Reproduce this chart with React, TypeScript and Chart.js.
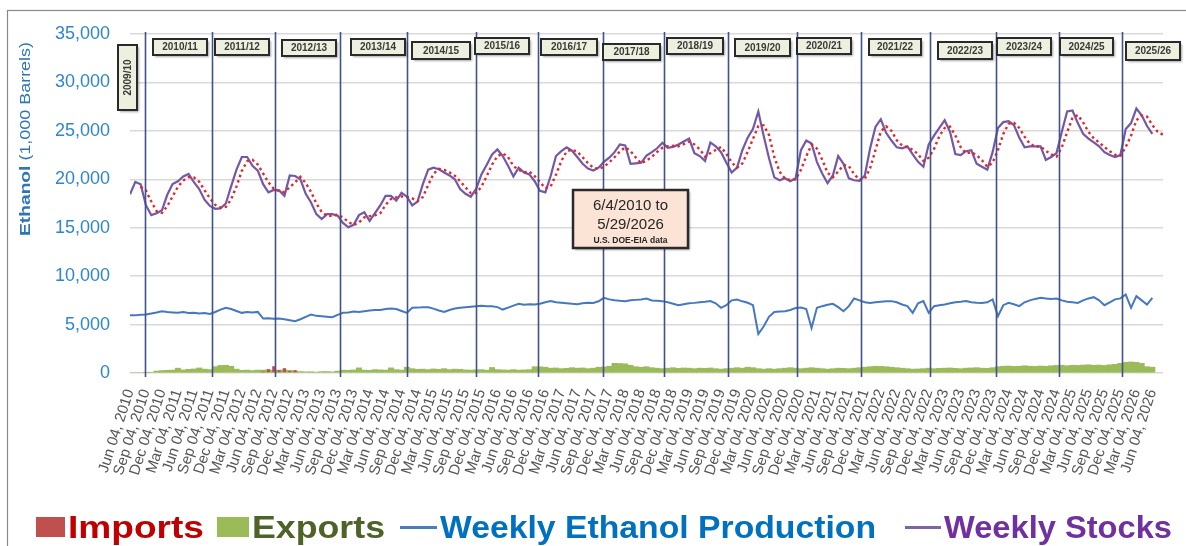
import React, { useEffect, useRef } from "react";
import { Chart, registerables } from "chart.js";

Chart.register(...registerables);

const FONT = "'Liberation Sans', Arial, sans-serif";

// ---------- x axis (months after Jun 4, 2010) ----------
const quarterNames = ["Jun", "Sep", "Dec", "Mar"];
const firstYear = 2010;
const lastTickMonth = 192;
const tickMonths: number[] = [];
for (let m = 0; m <= lastTickMonth; m += 3) tickMonths.push(m);
function tickLabel(m: number): string {
  const q = Math.round(m / 3);
  return `${quarterNames[q % 4]} 04, ${firstYear + Math.floor((q + 1) / 4)}`;
}

// ---------- series (monthly readings, 1,000 barrels) ----------
const weeklyStocks = [
  18460, 19730, 19490, 17300, 16300, 16500, 16800, 18400, 19500, 19800, 20300, 20550,
  19700, 19000, 17900, 17250, 16950, 17000, 17500, 19300, 21000, 22300, 22300, 21400,
  20900, 19500, 18650, 18900, 18850, 18300, 20400, 20340, 20000, 18500, 17600, 16400,
  15900, 16400, 16400, 16250, 15500, 15050, 15300, 16300, 16600, 15700, 16500, 17300,
  18290, 18290, 17800, 18600, 18200, 17300, 17700, 19500, 21000, 21200, 21030, 20700,
  20400, 20000, 19000, 18500, 18200, 19000, 20500, 21500, 22570, 23080, 22400, 21400,
  20300, 21200, 20700, 20500, 19800, 18800, 18650, 20340, 22400, 22910, 23300, 22950,
  22300, 21600, 21100, 20900, 21200, 21800, 22230, 22800, 23600, 23500, 21600, 21650,
  21700, 22450, 22800, 23200, 23770, 23250, 23350, 23600, 23900, 24200, 22700, 22400,
  21900, 23800, 23400, 22800, 21700, 20700, 21200, 23000, 24300, 25200, 27000, 24500,
  22200, 20200, 19900, 20100, 19800, 20100, 23000, 24000, 23700, 21800, 20600, 19600,
  20400, 22400, 21600, 20100, 19900, 19850, 20400, 23200, 25400, 26200, 24800, 24000,
  23300, 23200, 23400, 22570, 21800, 21300, 23600, 24500, 25300, 26100, 24900, 22600,
  22500, 22900, 23000, 21600, 21300, 21000, 22800, 25300, 25900, 26000, 25600, 24300,
  23300, 23400, 23400, 23400, 22000, 22300, 22700, 24900, 27000, 27100, 25800, 24700,
  24200, 23800, 23400, 22800, 22500, 22300, 22500, 25200, 25800, 27300, 26600, 25500,
  24700,
];

const stocksTrend = [
  null, null, 19230, 18840, 17700, 16700, 16530, 17230, 18230, 19230, 19870, 20220,
  20180, 19750, 18870, 18050, 17370, 17070, 17150, 17930, 19270, 20870, 21870, 22000,
  21530, 20600, 19680, 19020, 18800, 18680, 19180, 19680, 20250, 19610, 18700, 17500,
  16630, 16230, 16230, 16350, 16050, 15600, 15280, 15550, 16070, 16200, 16270, 16500,
  17360, 17960, 18130, 18230, 18200, 18030, 17730, 18170, 19400, 20570, 21080, 20980,
  20710, 20370, 19800, 19170, 18570, 18570, 19230, 20330, 21520, 22380, 22680, 22290,
  21370, 20970, 20730, 20800, 20330, 19700, 19080, 19260, 20460, 21880, 22870, 23050,
  22850, 22280, 21670, 21200, 21070, 21300, 21740, 22280, 22880, 23300, 22900, 22250,
  21650, 21930, 22320, 22820, 23260, 23410, 23460, 23400, 23620, 23900, 23600, 23100,
  22330, 22700, 23030, 23330, 22630, 21730, 21200, 21630, 22830, 24170, 25500, 25570,
  24570, 22300, 20770, 20070, 19930, 20000, 20970, 22370, 23570, 23170, 22030, 20670,
  20200, 20800, 21470, 21370, 20530, 19950, 20050, 21150, 23000, 24930, 25470, 25000,
  24030, 23500, 23300, 23060, 22590, 21890, 22230, 23130, 24470, 25300, 25430, 24530,
  23330, 22670, 22800, 22500, 21970, 21300, 21700, 23030, 24670, 25730, 25830, 25300,
  24400, 23670, 23370, 23400, 22930, 22570, 22330, 23300, 24870, 26330, 26630, 25870,
  24900, 24230, 23800, 23330, 22900, 22530, 22430, 23330, 24500, 26100, 26570, 26470,
  25600, 24900, 24600,
];

const weeklyProduction = [
  5970, 5950, 6020, 6040, 6150, 6250, 6380, 6300, 6250, 6210, 6300, 6200,
  6210, 6150, 6200, 6100, 6300, 6550, 6730, 6600, 6400, 6210, 6300, 6250,
  6310, 5620, 5650, 5600, 5620, 5550, 5450, 5350, 5550, 5800, 6040, 5900,
  5850, 5800, 5760, 6000, 6210, 6250, 6350, 6300, 6380, 6450, 6500, 6500,
  6600, 6650, 6600, 6400, 6210, 6730, 6750, 6800, 6790, 6650, 6450, 6310,
  6500, 6650, 6730, 6800, 6850, 6900, 6950, 6900, 6900, 6800, 6550, 6750,
  6950, 7140, 7050, 7100, 7070, 7150, 7300, 7420, 7300, 7250, 7200, 7140,
  7100, 7200, 7250, 7240, 7400, 7760, 7600, 7500, 7450, 7420, 7500, 7550,
  7600, 7690, 7480, 7450, 7420, 7300, 7150, 7000, 7100, 7200, 7240, 7300,
  7350, 7420, 7200, 6730, 7000, 7500, 7590, 7400, 7250, 7000, 4030, 4800,
  5800, 6300, 6350, 6380, 6500, 6700, 6750, 6600, 4650, 6730, 6900, 7050,
  7140, 6800, 6380, 6900, 7690, 7500, 7300, 7240, 7300, 7350, 7400, 7420,
  7300, 7070, 6900, 6210, 7200, 7420, 6210, 6900, 7000, 7070, 7200, 7300,
  7350, 7420, 7300, 7250, 7240, 7300, 7590, 5860, 7000, 7240, 7100, 6900,
  7300, 7500, 7650, 7760, 7700, 7650, 7690, 7500, 7350, 7300, 7240, 7500,
  7700, 7830, 7500, 7000, 7300, 7600, 7700, 8100, 6730, 7930, 7500, 7070,
  7760,
];

const exportsVolume = [
  0, 0, 0, 60, 80, 200, 250, 280, 300, 500, 320, 380,
  420, 520, 400, 350, 650, 780, 800, 700, 400, 280, 300, 250,
  300, 300, 320, 280, 300, 320, 280, 200, 150, 120, 130, 100,
  140, 150, 120, 200, 300, 280, 320, 530, 300, 280, 350, 320,
  300, 530, 350, 300, 600, 450, 380, 400, 350, 420, 380, 450,
  350, 400, 380, 320, 300, 330, 350, 300, 570, 350, 320, 300,
  350, 300, 320, 350, 650, 640, 600, 500, 520, 450, 480, 550,
  500, 520, 450, 500, 600, 620, 700, 1000, 980, 950, 800, 650,
  600, 650, 550, 500, 450, 500, 550, 480, 520, 500, 450, 500,
  480, 520, 450, 400, 450, 500, 550, 500, 600, 550, 450, 400,
  450, 400, 450, 500, 550, 500, 450, 500, 550, 500, 450, 400,
  450, 500, 480, 450, 500, 550, 600, 650, 700, 680, 650, 600,
  550, 500, 450, 400, 420, 450, 500, 450, 480, 500, 520, 480,
  450, 500, 520, 550, 500, 480, 550, 650, 700, 720, 680, 700,
  750, 700, 680, 720, 700, 750, 780, 800, 750, 800, 780, 820,
  850, 800, 820, 780, 850, 900, 1000, 1100, 1140, 1100, 1000, 650,
  600,
];

const importsMonths = [25, 26, 27, 28, 29, 30, 31];
const importsVolume = [150, 400, 700, 300, 500, 200, 300];

// ---------- annotations ----------
const marketingYearLineMonths = [2.8, 15.4, 27.3, 39.5, 52.1, 64.9, 76.6, 88.8, 100.3, 112.3, 125.3, 137.2, 150.3, 162.6, 174.4, 186.3];
const marketingYearLabels = ["2010/11", "2011/12", "2012/13", "2013/14", "2014/15", "2015/16", "2016/17", "2017/18", "2018/19", "2019/20", "2020/21", "2021/22", "2022/23", "2023/24", "2024/25", "2025/26"];
// box layout: [left, top, width, height] in pixels
const yearBoxLayout: number[][] = [
  [153, 39, 54, 16], [215, 39, 54, 16], [282, 40, 54, 16], [351, 39, 54, 16],
  [412, 42, 58, 17], [475, 38, 54, 16], [541, 39, 56, 16], [603, 44, 57, 16],
  [667, 38, 56, 16], [735, 39, 55, 17], [797, 38, 54, 16], [869, 39, 52, 16],
  [938, 42, 54, 17], [997, 38, 54, 17], [1060, 38, 53, 17], [1126, 42, 54, 18],
];
const firstYearLabel = "2009/10";
const dateRangeLines = ["6/4/2010 to", "5/29/2026", "U.S. DOE-EIA data"];
const yTitleBold = "Ethanol";
const yTitleRest = " (1,000 Barrels)";

const legendItems = [
  { kind: "box", text: "Imports", swatch: "#c0504d", color: "#c00000", sx: 36, tx: 68, tw: 136 },
  { kind: "box", text: "Exports", swatch: "#9bbb59", color: "#4f6228", sx: 217, tx: 252, tw: 133 },
  { kind: "line", text: "Weekly Ethanol Production", swatch: "#4a7ebb", color: "#0070c0", sx: 400, tx: 440, tw: 436 },
  { kind: "line", text: "Weekly Stocks", swatch: "#8064a2", color: "#7030a0", sx: 905, tx: 944, tw: 228 },
];

function fillFitted(ctx: CanvasRenderingContext2D, text: string, x: number, y: number, width: number) {
  const w = ctx.measureText(text).width;
  ctx.save();
  ctx.translate(x, y);
  ctx.scale(width / w, 1);
  ctx.fillText(text, 0, 0);
  ctx.restore();
}

function drawBox(ctx: CanvasRenderingContext2D, x: number, y: number, w: number, h: number, fill: string, lw: number) {
  ctx.save();
  ctx.shadowColor = "rgba(0,0,0,0.35)";
  ctx.shadowOffsetX = 1.5;
  ctx.shadowOffsetY = 1.5;
  ctx.shadowBlur = 2;
  ctx.fillStyle = fill;
  ctx.fillRect(x, y, w, h);
  ctx.restore();
  ctx.save();
  ctx.strokeStyle = "#2a2a2a";
  ctx.lineWidth = lw;
  ctx.strokeRect(x, y, w, h);
  ctx.restore();
}

const overlayPlugin = {
  id: "overlay",
  beforeDraw(chart: any) {
    const ctx = chart.ctx as CanvasRenderingContext2D;
    ctx.save();
    ctx.fillStyle = "#ffffff";
    ctx.fillRect(0, 0, chart.width, chart.height);
    ctx.restore();
  },
  afterDatasetsDraw(chart: any) {
    const ctx = chart.ctx as CanvasRenderingContext2D;
    const xs = chart.scales.x;
    ctx.save();
    ctx.strokeStyle = "#41518c";
    ctx.lineWidth = 1.6;
    for (const m of marketingYearLineMonths) {
      const px = Math.round(xs.getPixelForValue(m)) + 0.5;
      ctx.beginPath();
      ctx.moveTo(px, 32);
      ctx.lineTo(px, 377);
      ctx.stroke();
    }
    ctx.restore();
  },
  afterDraw(chart: any) {
    const ctx = chart.ctx as CanvasRenderingContext2D;
    // outer frame
    ctx.save();
    ctx.strokeStyle = "#8a8a8a";
    ctx.lineWidth = 1.2;
    ctx.strokeRect(7.5, 10.5, 1200, 560);
    ctx.restore();

    // marketing-year boxes
    ctx.save();
    ctx.textAlign = "center";
    ctx.textBaseline = "middle";
    marketingYearLabels.forEach((label, i) => {
      const [bx, by, bw, bh] = yearBoxLayout[i];
      drawBox(ctx, bx, by, bw, bh, "#edf0de", 2);
      ctx.fillStyle = "#3a3a3a";
      ctx.font = `bold 10px ${FONT}`;
      ctx.fillText(label, bx + bw / 2, by + bh / 2 + 0.5);
    });
    // vertical 2009/10 box
    drawBox(ctx, 118, 45, 19, 65, "#edf0de", 2);
    ctx.save();
    ctx.translate(127.5, 77.5);
    ctx.rotate(-Math.PI / 2);
    ctx.fillStyle = "#3a3a3a";
    ctx.font = `bold 10px ${FONT}`;
    ctx.fillText(firstYearLabel, 0, 0.5);
    ctx.restore();
    ctx.restore();

    // date range box
    ctx.save();
    drawBox(ctx, 573, 190, 115, 58, "#fbe3d5", 2.5);
    ctx.textAlign = "center";
    ctx.textBaseline = "alphabetic";
    ctx.fillStyle = "#262626";
    ctx.font = `15px ${FONT}`;
    ctx.fillText(dateRangeLines[0], 630.5, 209.5);
    ctx.fillText(dateRangeLines[1], 630.5, 229);
    ctx.font = `bold 8.5px ${FONT}`;
    ctx.fillText(dateRangeLines[2], 630.5, 243);
    ctx.restore();

    // y-axis title
    ctx.save();
    ctx.translate(26, 236);
    ctx.rotate(-Math.PI / 2);
    ctx.fillStyle = "#2e75b6";
    ctx.textBaseline = "middle";
    ctx.font = `bold 15px ${FONT}`;
    const w1 = ctx.measureText(yTitleBold).width;
    ctx.font = `14px ${FONT}`;
    const w2 = ctx.measureText(yTitleRest).width;
    const s = 194 / (w1 + w2);
    ctx.scale(s, 1);
    ctx.font = `bold 15px ${FONT}`;
    ctx.fillText(yTitleBold, 0, 0);
    ctx.font = `14px ${FONT}`;
    ctx.fillText(yTitleRest, w1, 0);
    ctx.restore();

    // legend
    ctx.save();
    ctx.textBaseline = "alphabetic";
    ctx.font = `bold 32px ${FONT}`;
    for (const it of legendItems) {
      if (it.kind === "box") {
        ctx.fillStyle = it.swatch;
        ctx.fillRect(it.sx, 517, it.tx - it.sx - 3, 20);
      } else {
        ctx.strokeStyle = it.swatch;
        ctx.lineWidth = 3;
        ctx.beginPath();
        ctx.moveTo(it.sx, 527.5);
        ctx.lineTo(it.tx - 3, 527.5);
        ctx.stroke();
      }
      ctx.fillStyle = it.color;
      fillFitted(ctx, it.text, it.tx, 538, it.tw);
    }
    ctx.restore();
  },
};

export default function App() {
  const canvasRef = useRef<HTMLCanvasElement | null>(null);

  useEffect(() => {
    const canvas = canvasRef.current;
    if (!canvas) return;
    const pts = (arr: (number | null)[]) => arr.map((v, i) => ({ x: i, y: v }));
    const chart = new Chart(canvas, {
      type: "line",
      data: {
        datasets: [
          {
            type: "line",
            label: "Stocks trend",
            data: pts(stocksTrend) as any,
            borderColor: "#e3262b",
            borderWidth: 2.4,
            borderDash: [2.5, 3.2],
            pointRadius: 0,
            fill: false,
            order: 0,
          },
          {
            type: "line",
            label: "Weekly Stocks",
            data: pts(weeklyStocks) as any,
            borderColor: "#7458a6",
            borderWidth: 2.2,
            pointRadius: 0,
            fill: false,
            order: 1,
          },
          {
            type: "line",
            label: "Weekly Ethanol Production",
            data: pts(weeklyProduction) as any,
            borderColor: "#4578bf",
            borderWidth: 2,
            pointRadius: 0,
            fill: false,
            order: 2,
          },
          {
            type: "bar",
            label: "Imports",
            data: importsMonths.map((m, i) => ({ x: m, y: importsVolume[i] })) as any,
            backgroundColor: "#c0504d",
            barPercentage: 0.6,
            categoryPercentage: 1,
            grouped: false,
            order: 3,
          },
          {
            type: "bar",
            label: "Exports",
            data: pts(exportsVolume) as any,
            backgroundColor: "#9bbb59",
            barPercentage: 1,
            categoryPercentage: 1,
            grouped: false,
            order: 4,
          },
        ],
      },
      options: {
        animation: false,
        responsive: false,
        maintainAspectRatio: false,
        layout: { padding: { left: 0, right: 23, top: 34, bottom: 0 } },
        plugins: { legend: { display: false }, tooltip: { enabled: false } },
        scales: {
          x: {
            type: "linear",
            min: 0,
            max: 194,
            offset: false,
            grid: { display: false, drawTicks: false },
            border: { display: false },
            afterBuildTicks: (scale: any) => {
              scale.ticks = tickMonths.map((v) => ({ value: v }));
            },
            afterFit: (scale: any) => {
              scale.height = 173;
            },
            ticks: {
              autoSkip: false,
              minRotation: 72,
              maxRotation: 72,
              padding: 14,
              color: "#555555",
              font: { family: FONT, size: 15 },
              callback: (v: any) => tickLabel(Number(v)),
            },
          },
          y: {
            min: 0,
            max: 35000,
            afterFit: (scale: any) => {
              scale.width = 130;
            },
            grid: { color: "#d9d9d9", lineWidth: 1.5, drawTicks: false },
            border: { display: false },
            ticks: {
              stepSize: 5000,
              padding: 20,
              color: "#2f86cf",
              font: { family: FONT, size: 18 },
            },
          },
        },
      },
      plugins: [overlayPlugin],
    });
    return () => chart.destroy();
  }, []);

  return (
    <div style={{ position: "absolute", left: 0, top: 0, width: 1186, height: 546, background: "#fff" }}>
      <canvas ref={canvasRef} width={1186} height={546} style={{ display: "block", width: 1186, height: 546 }} />
    </div>
  );
}
